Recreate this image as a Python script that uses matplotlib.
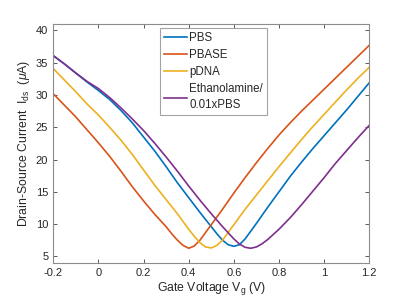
import matplotlib
matplotlib.use('Agg')
from matplotlib import pyplot as plt

# gate voltage (V) and drain-source current (uA)
vg_pbs = [-0.2, -0.15, -0.1, -0.05, 0.0, 0.05, 0.1, 0.15, 0.2, 0.25,
          0.3, 0.35, 0.4, 0.45, 0.5, 0.525, 0.55, 0.575, 0.6, 0.625,
          0.65, 0.675, 0.7, 0.75, 0.8, 0.85, 0.9, 0.95, 1.0, 1.05,
          1.1, 1.15, 1.2]
pbs = [36.1, 34.8, 33.4, 32.0, 30.7, 29.3, 27.6, 25.7, 23.5, 21.3,
       18.9, 16.4, 14.1, 11.8, 9.6, 8.5, 7.5, 6.8, 6.55, 6.8,
       7.7, 8.9, 10.1, 12.6, 15.0, 17.4, 19.6, 21.7, 23.7, 25.7,
       27.7, 29.8, 31.9]

vg_pbase = [-0.2, -0.15, -0.1, -0.05, 0.0, 0.05, 0.1, 0.15, 0.2, 0.25,
            0.3, 0.325, 0.35, 0.375, 0.4, 0.425, 0.45, 0.475, 0.5, 0.55,
            0.6, 0.65, 0.7, 0.75, 0.8, 0.85, 0.9, 0.95, 1.0, 1.05,
            1.1, 1.15, 1.2]
pbase = [30.2, 28.4, 26.6, 24.6, 22.6, 20.5, 18.2, 15.8, 13.6, 11.5,
         9.6, 8.5, 7.5, 6.7, 6.25, 6.6, 7.5, 8.7, 9.9, 12.3,
         14.8, 17.2, 19.5, 21.7, 23.8, 25.7, 27.5, 29.2, 30.9, 32.6,
         34.3, 36.0, 37.7]

vg_pdna = [-0.2, -0.15, -0.1, -0.05, 0.0, 0.05, 0.1, 0.15, 0.2, 0.25,
           0.3, 0.35, 0.4, 0.425, 0.45, 0.475, 0.5, 0.525, 0.55, 0.575,
           0.6, 0.65, 0.7, 0.75, 0.8, 0.85, 0.9, 0.95, 1.0, 1.05,
           1.1, 1.15, 1.2]
pdna = [34.1, 32.3, 30.5, 28.6, 26.9, 25.0, 23.0, 20.8, 18.4, 16.0,
        13.8, 11.6, 9.2, 8.1, 7.1, 6.45, 6.3, 6.7, 7.5, 8.7,
        9.9, 12.3, 14.5, 16.7, 18.9, 21.0, 23.1, 25.1, 27.0, 28.9,
        30.8, 32.6, 34.3]

vg_eth = [-0.2, -0.15, -0.1, -0.05, 0.0, 0.05, 0.1, 0.15, 0.2, 0.25,
          0.3, 0.35, 0.4, 0.45, 0.5, 0.55, 0.6, 0.625, 0.65, 0.675,
          0.7, 0.725, 0.75, 0.775, 0.8, 0.85, 0.9, 0.95, 1.0, 1.05,
          1.1, 1.15, 1.2]
ethanolamine = [36.1, 34.8, 33.4, 32.1, 31.0, 29.6, 28.0, 26.3, 24.5, 22.5,
                20.4, 18.2, 15.9, 13.7, 11.6, 9.6, 7.7, 6.9, 6.4, 6.25,
                6.45, 6.95, 7.6, 8.4, 9.2, 11.0, 13.0, 15.1, 17.2, 19.4,
                21.4, 23.4, 25.3]

labels = ['PBS', 'PBASE', 'pDNA', 'Ethanolamine/\n0.01xPBS']
colors = ['#0072BD', '#D95319', '#EDB120', '#7E2F8E']

plt.rcParams['font.family'] = ['Liberation Sans', 'DejaVu Sans']
plt.rcParams['mathtext.fontset'] = 'custom'
plt.rcParams['mathtext.rm'] = 'Liberation Sans'
plt.rcParams['mathtext.it'] = 'Liberation Sans:italic'

fig = plt.figure(figsize=(4.09, 3.07), dpi=100)
ax = fig.add_axes([0.130, 0.144, 0.773, 0.778])

curves = [(vg_pbs, pbs), (vg_pbase, pbase), (vg_pdna, pdna), (vg_eth, ethanolamine)]
for (x, y), label, c in zip(curves, labels, colors):
    ax.plot(x, y, color=c, lw=1.2, label=label)

ax.set_xlim(-0.2, 1.2)
ax.set_ylim(4, 41)
ax.set_xticks([-0.2, 0, 0.2, 0.4, 0.6, 0.8, 1, 1.2])
ax.set_xticklabels(['-0.2', '0', '0.2', '0.4', '0.6', '0.8', '1', '1.2'])
ax.set_yticks([5, 10, 15, 20, 25, 30, 35, 40])

txt = '#262626'
ax.tick_params(direction='in', top=True, right=True, length=3, width=0.6,
               color='#404040', labelcolor=txt, labelsize=8)
for s in ax.spines.values():
    s.set_color('#8c8c8c')
    s.set_linewidth(0.8)

ax.set_xlabel('Gate Voltage V$_{\\rm g}$ (V)', fontsize=8.8, color=txt, labelpad=2)
ax.set_ylabel('Drain-Source Current  I$_{\\rm ds}$  ($\\mu$A)', fontsize=8.8,
              color=txt, labelpad=3)

leg = ax.legend(loc='upper left', bbox_to_anchor=(0.338, 0.985), fontsize=8.3,
                frameon=True, fancybox=False, handlelength=2.0, handletextpad=0.2,
                labelspacing=0.45, borderpad=0.35, borderaxespad=0)
leg.get_frame().set_edgecolor('#8c8c8c')
leg.get_frame().set_linewidth(0.8)
for t in leg.get_texts():
    t.set_color(txt)
    t.set_linespacing(1.45)

fig.savefig('out.png', dpi=100)
